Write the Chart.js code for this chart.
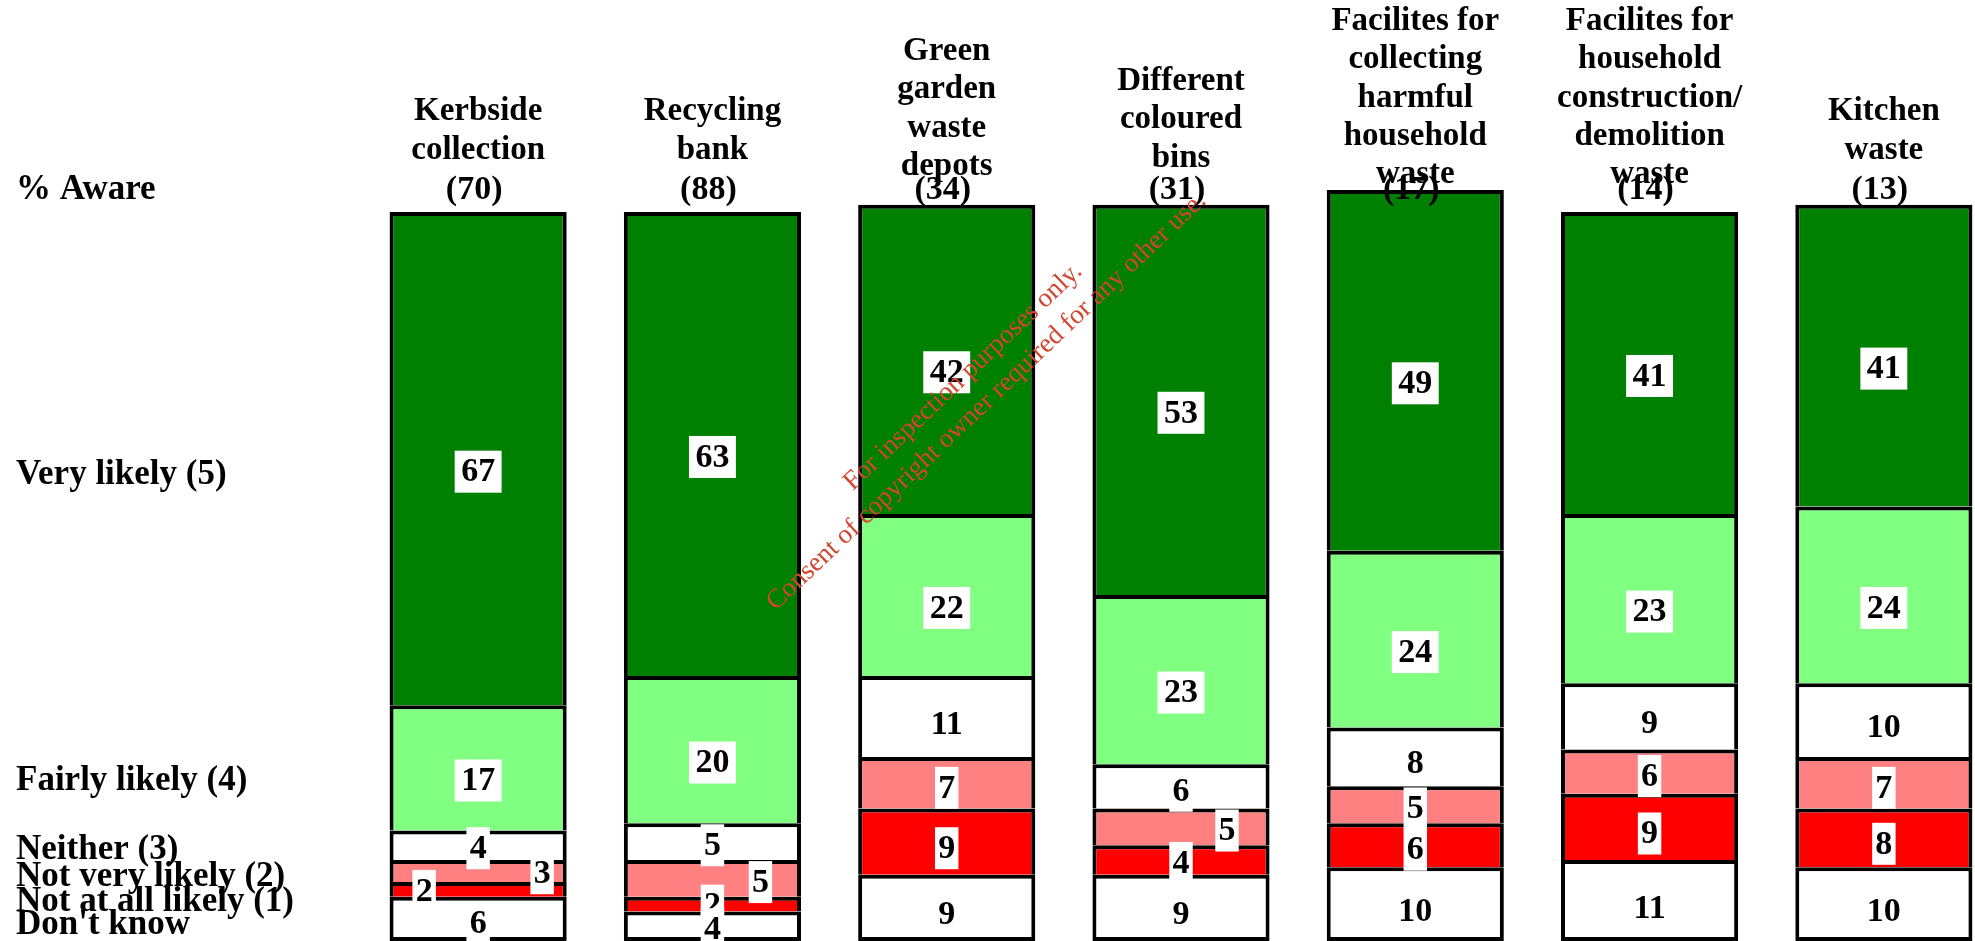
<!DOCTYPE html>
<html>
<head>
  <meta charset="utf-8">
  <title>Likelihood of using facilities among those aware</title>
  <script src="https://cdn.jsdelivr.net/npm/chart.js"></script>
  <style>
    html, body {
      margin: 0;
      padding: 0;
      overflow: hidden;
      background: #fff;
    }
    /* a little wider than the window: the last column sits right at the edge */
    .chart-box {
      position: absolute;
      left: 0;
      top: 0;
      width: 2010px;
      height: 941px;
    }
  </style>
</head>
<body>
<div class="chart-box"><canvas id="awareChart"></canvas></div>

<script>
  // column headings (one entry per line) and % aware of each facility
  const facilities = [
    ['Kerbside', 'collection'],
    ['Recycling', 'bank'],
    ['Green', 'garden', 'waste', 'depots'],
    ['Different', 'coloured', 'bins'],
    ['Facilites for', 'collecting', 'harmful', 'household', 'waste'],
    ['Facilites for', 'household', 'construction/', 'demolition', 'waste'],
    ['Kitchen', 'waste']
  ];
  const aware = [70, 88, 34, 31, 17, 14, 13];

  // % likelihood among those aware, stacked from the bottom up
  const dontKnow   = [6, 4, 9, 9, 10, 11, 10];
  const notAtAll   = [2, 2, 9, 4, 6, 9, 8];
  const notVery    = [3, 5, 7, 5, 5, 6, 7];
  const neither    = [4, 5, 11, 6, 8, 9, 10];
  const fairly     = [17, 20, 22, 23, 24, 23, 24];
  const veryLikely = [67, 63, 42, 53, 49, 41, 41];

  const rowLabels = ['% Aware', 'Very likely (5)', 'Fairly likely (4)', 'Neither (3)',
                     'Not very likely (2)', 'Not at all likely (1)', "Don't know"];

  const SERIF = '"Liberation Serif", "Times New Roman", Times, serif';

  // Text drawn on top of the bars: value boxes, headings, row names, watermark
  const textPlugin = {
    id: 'textPlugin',
    afterDatasetsDraw(chart) {
      const ctx = chart.ctx;
      const xs = chart.scales.x;
      ctx.save();

      // value boxes - small segments get pushed sideways like in the original
      const nudge = {'2,0': 64, '1,0': -54, '2,1': 48, '2,3': 46};
      ctx.font = 'bold 34px ' + SERIF;
      ctx.textAlign = 'center';
      ctx.textBaseline = 'middle';
      for (let d = chart.data.datasets.length - 1; d >= 0; d--) {
        const meta = chart.getDatasetMeta(d);
        meta.data.forEach((bar, i) => {
          const txt = String(chart.data.datasets[d].data[i]);
          const h = Math.abs(bar.base - bar.y);
          const x = bar.x + (nudge[d + ',' + i] || 0);
          const y = (bar.y + bar.base) / 2 + Math.min(13, h * 0.1);
          const w = ctx.measureText(txt).width * 1.38;
          ctx.fillStyle = '#fff';
          ctx.fillRect(x - w / 2, y - 21, w, 42);
          ctx.fillStyle = '#000';
          ctx.fillText(txt, x, y + 1);
        });
      }

      // column headings, last line lower for longer headings
      ctx.font = 'bold 33px ' + SERIF;
      facilities.forEach((lines, i) => {
        const x = xs.getPixelForValue(i);
        const lastY = 150 + 8.3 * (lines.length - 2);
        lines.forEach((ln, k) => {
          ctx.fillText(ln, x, lastY - (lines.length - 1 - k) * 38.4);
        });
      });
      ctx.font = 'bold 34px ' + SERIF;
      aware.forEach((a, i) => ctx.fillText('(' + a + ')', xs.getPixelForValue(i) - 4, 190));

      // row names down the left side
      ctx.font = 'bold 35px ' + SERIF;
      ctx.textAlign = 'left';
      const rowY = [190, 475, 781, 850, 877, 902, 925];
      rowLabels.forEach((t, k) => ctx.fillText(t, 16, rowY[k]));

      // diagonal watermark
      ctx.font = '27px ' + SERIF;
      ctx.fillStyle = '#d2452f';
      ctx.textAlign = 'center';
      ctx.textBaseline = 'alphabetic';
      ctx.translate(968, 382);
      ctx.rotate(-43.5 * Math.PI / 180);
      ctx.fillText('For inspection purposes only.', 0, 0);
      ctx.fillText('Consent of copyright owner required for any other use.', 0, 34);

      ctx.restore();
    }
  };

  function series(label, data, color, first) {
    return {
      label: label,
      data: data,
      backgroundColor: color,
      borderColor: '#000',
      borderWidth: {top: 4, left: 4, right: 4, bottom: first ? 4 : 0},
      borderSkipped: false
    };
  }

  new Chart(document.getElementById('awareChart').getContext('2d'), {
    type: 'bar',
    data: {
      labels: facilities.map(f => f.join(' ')),
      datasets: [
        series("Don't know", dontKnow, '#ffffff', true),
        series('Not at all likely (1)', notAtAll, '#ff0000'),
        series('Not very likely (2)', notVery, '#ff8080'),
        series('Neither (3)', neither, '#ffffff'),
        series('Fairly likely (4)', fairly, '#80ff80'),
        series('Very likely (5)', veryLikely, '#008000')
      ]
    },
    options: {
      responsive: true,
      maintainAspectRatio: false,
      animation: false,
      layout: { padding: { left: 361, right: 9, top: 131, bottom: 0 } },
      datasets: { bar: { categoryPercentage: 1, barPercentage: 0.756 } },
      plugins: {
        legend: { display: false },
        title: { display: false },
        tooltip: { enabled: false }
      },
      scales: {
        x: { stacked: true, display: false },
        y: { stacked: true, display: false, min: 0, max: 110 }
      }
    },
    plugins: [textPlugin]
  });
</script>
</body>
</html>
